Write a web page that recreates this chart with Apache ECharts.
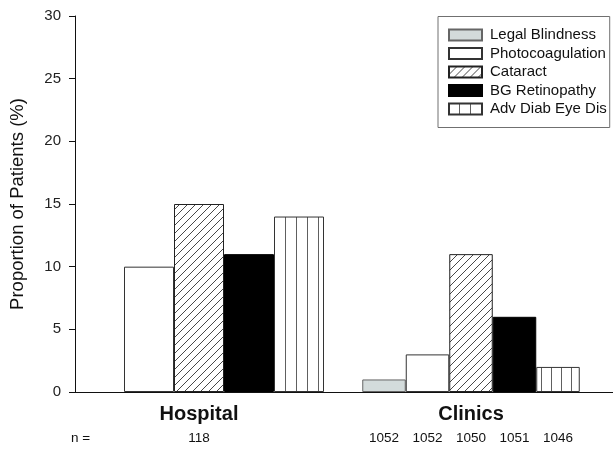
<!DOCTYPE html>
<html>
<head>
<meta charset="utf-8">
<script src="https://cdn.jsdelivr.net/npm/echarts@6/dist/echarts.min.js"></script>
<style>html,body{margin:0;padding:0;background:#fff}#c{width:613px;height:450px}</style>
</head>
<body>
<div id="c"></div>
<script>
// ---- data ----
const categories = ['Hospital', 'Clinics'];
const seriesNames = ['Legal Blindness', 'Photocoagulation', 'Cataract', 'BG Retinopathy', 'Adv Diab Eye Dis'];
const hospitalValues = [null, 10, 15, 11, 14];
const clinicsValues = [1, 3, 11, 6, 2];
const hospitalN = 118;
const clinicsN = [1052, 1052, 1050, 1051, 1046];
const yTicks = { min: 0, max: 30, interval: 5 };
const yTitle = 'Proportion of Patients (%)';

const FONT = 'Liberation Sans, Arial, sans-serif';

function hatchPattern() {
  const s = 8;
  const c = document.createElement('canvas');
  c.width = s; c.height = s;
  const g = c.getContext('2d');
  g.fillStyle = '#fff'; g.fillRect(0, 0, s, s);
  g.strokeStyle = '#333'; g.lineWidth = 0.9;
  g.beginPath();
  g.moveTo(-1, s + 1); g.lineTo(s + 1, -1);
  g.moveTo(-1, 1); g.lineTo(1, -1);
  g.moveTo(s - 1, s + 1); g.lineTo(s + 1, s - 1);
  g.stroke();
  return { image: c, repeat: 'repeat' };
}
function vlinePattern(w, offX) {
  const c = document.createElement('canvas');
  c.width = w; c.height = 4;
  const g = c.getContext('2d');
  g.fillStyle = '#fff'; g.fillRect(0, 0, w, 4);
  g.fillStyle = '#606060'; g.fillRect(0, 0, 1, 4);
  return { image: c, repeat: 'repeat', x: offX, y: 0 };
}

function styleFor(i, group) {
  if (i === 0) return { color: '#d3dbdb', borderColor: '#666', borderWidth: 1 };
  if (i === 1) return { color: '#ffffff', borderColor: '#333', borderWidth: 1 };
  if (i === 2) return { color: hatchPattern(), borderColor: '#222', borderWidth: 1 };
  if (i === 3) return { color: '#000000', borderColor: '#000', borderWidth: 1 };
  return { color: group === 0 ? vlinePattern(11, 10) : vlinePattern(10, 1), borderColor: '#333', borderWidth: 1 };
}

const series = [];
seriesNames.forEach((name, i) => {
  series.push({
    name, type: 'bar', xAxisIndex: 0, yAxisIndex: 0,
    barWidth: 50, barGap: 0,
    data: [hospitalValues[i] == null ? '-' : hospitalValues[i], '-'],
    itemStyle: styleFor(i, 0),
    label: {
      show: i === 2, position: 'bottom', distance: 39,
      formatter: () => String(hospitalN),
      fontSize: 13.5, fontFamily: FONT, color: '#111'
    },
    emphasis: { disabled: true }, animation: false
  });
});
seriesNames.forEach((name, i) => {
  series.push({
    name, type: 'bar', xAxisIndex: 1, yAxisIndex: 0,
    barWidth: 43.5, barGap: 0,
    data: ['-', clinicsValues[i]],
    itemStyle: styleFor(i, 1),
    label: {
      show: true, position: 'bottom', distance: 39,
      formatter: () => String(clinicsN[i]),
      fontSize: 13.5, fontFamily: FONT, color: '#111'
    },
    emphasis: { disabled: true }, animation: false
  });
});

const chart = echarts.init(document.getElementById('c'), null, { renderer: 'canvas' });
chart.setOption({
  animation: false,
  backgroundColor: '#fff',
  grid: [
    { left: 63, right: 6, top: 16, bottom: 58 },
    { left: 75, right: 0, top: 16, bottom: 58 }
  ],
  xAxis: [
    { type: 'category', gridIndex: 0, data: categories,
      axisLine: { show: false }, axisTick: { show: false },
      axisLabel: { fontSize: 20, fontWeight: 'bold', fontFamily: FONT, color: '#111', margin: 12 } },
    { type: 'category', gridIndex: 0, data: categories, show: false },
    { type: 'value', gridIndex: 1, min: 0, max: 1,
      axisLine: { show: true, lineStyle: { color: '#111', width: 1 } },
      axisTick: { show: false }, axisLabel: { show: false }, splitLine: { show: false } }
  ],
  yAxis: [
    { type: 'value', gridIndex: 0, min: yTicks.min, max: yTicks.max, interval: yTicks.interval, show: false, splitLine: { show: false } },
    { type: 'value', gridIndex: 1, min: yTicks.min, max: yTicks.max, interval: yTicks.interval,
      name: yTitle, nameLocation: 'middle', nameGap: 48,
      nameTextStyle: { fontSize: 18.5, fontFamily: FONT, color: '#111' },
      axisLine: { show: true, lineStyle: { color: '#111', width: 1 } },
      axisTick: { show: true, length: 6, lineStyle: { color: '#111' } },
      axisLabel: { fontSize: 15, fontFamily: FONT, color: '#222', margin: 14 },
      splitLine: { show: false } }
  ],
  legend: {
    orient: 'vertical', left: 438, top: 16.5,
    padding: [11, 3, 11, 10],
    itemWidth: 33, itemHeight: 11, itemGap: 3.5,
    icon: 'rect',
    borderColor: '#707070', borderWidth: 1,
    textStyle: { fontSize: 15, fontFamily: FONT, color: '#111', padding: [0, 0, 0, 3] },
    data: seriesNames,
    selectedMode: false
  },
  graphic: [
    { type: 'text', left: 71, top: 431, style: { text: 'n =', fontSize: 13.5, fontFamily: FONT, fill: '#111' } }
  ],
  series
});
</script>
</body>
</html>
